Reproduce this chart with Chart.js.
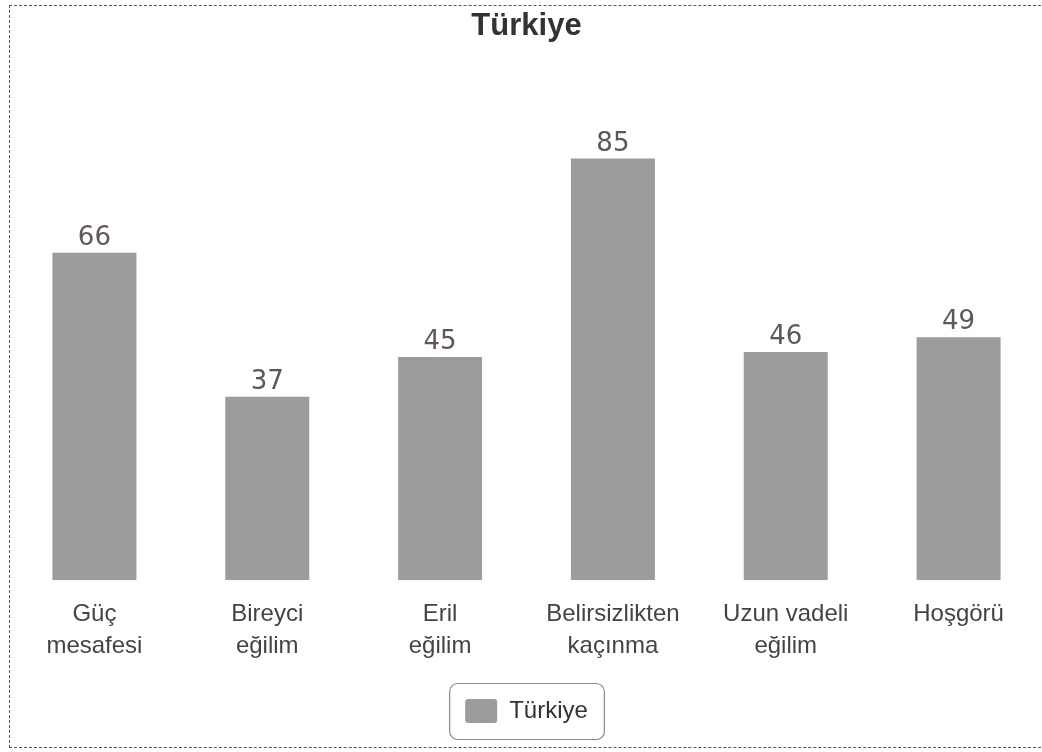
<!DOCTYPE html>
<html>
<head>
<meta charset="utf-8">
<script src="https://cdn.jsdelivr.net/npm/chart.js@4/dist/chart.umd.min.js"></script>
<style>
    html, body { margin: 0; padding: 0; background: #fff; overflow: hidden; }
    #frame {
        position: absolute; left: 9px; top: 5px; width: 1100px; height: 741px;
        border: 1px dashed #555;
    }
    #wrap { position: absolute; left: 8px; top: 0; width: 1037px; height: 752px; }
</style>
</head>
<body>
<div id="frame"></div>
<div id="wrap"><canvas id="chart"></canvas></div>
<script>
// Chart data
const categories = [
    ['Güç', 'mesafesi'],
    ['Bireyci', 'eğilim'],
    ['Eril', 'eğilim'],
    ['Belirsizlikten', 'kaçınma'],
    ['Uzun vadeli', 'eğilim'],
    ['Hoşgörü']
];
const values = [66, 37, 45, 85, 46, 49];
const seriesName = 'Türkiye';

// Value labels above bars
const valueLabels = {
    id: 'valueLabels',
    afterDatasetsDraw(chart) {
        const ctx = chart.ctx;
        const meta = chart.getDatasetMeta(0);
        ctx.save();
        ctx.font = '26px "DejaVu Sans"';
        ctx.fillStyle = '#5f5754';
        ctx.textAlign = 'center';
        ctx.textBaseline = 'alphabetic';
        meta.data.forEach((bar, i) => {
            ctx.fillText(values[i], bar.x, bar.y - 8);
        });
        ctx.restore();
    }
};

// Rounded frame around the legend
const legendFrame = {
    id: 'legendFrame',
    afterDraw(chart) {
        const hit = chart.legend && chart.legend.legendHitBoxes && chart.legend.legendHitBoxes[0];
        if (!hit) return;
        const ctx = chart.ctx;
        const cy = hit.top + hit.height / 2;
        const x = hit.left - 16, y = cy - 28, w = hit.width + 32, h = 56;
        ctx.save();
        ctx.strokeStyle = '#8a8a8a';
        ctx.lineWidth = 1.2;
        ctx.beginPath();
        ctx.roundRect(x + 0.5, y + 0.5, w, h, 8);
        ctx.stroke();
        ctx.restore();
    }
};

new Chart(document.getElementById('chart'), {
    type: 'bar',
    data: {
        labels: categories,
        datasets: [{
            label: seriesName,
            data: values,
            backgroundColor: '#9d9b9d',
            borderWidth: 0,
            categoryPercentage: 1,
            barPercentage: 0.486
        }]
    },
    options: {
        responsive: true,
        maintainAspectRatio: false,
        animation: false,
        layout: { padding: { top: 0, bottom: 19, left: 0, right: 0 } },
        plugins: {
            title: {
                display: true,
                text: 'Türkiye',
                color: '#333',
                font: { family: '"Liberation Sans", Arial', size: 31, weight: 'bold', lineHeight: 1.2 },
                padding: { top: 8, bottom: 39 }
            },
            legend: {
                display: true,
                position: 'bottom',
                labels: {
                    color: '#333',
                    font: { family: '"Liberation Sans", Arial', size: 24 },
                    boxWidth: 32,
                    boxHeight: 24,
                    useBorderRadius: true,
                    borderRadius: 3,
                    padding: 14
                }
            },
            tooltip: { enabled: false }
        },
        scales: {
            x: {
                grid: { display: false },
                border: { display: false },
                afterFit(scale) { scale.height += 12; },
                ticks: {
                    color: '#444',
                    padding: 10,
                    maxRotation: 0,
                    autoSkip: false,
                    font: { family: '"Liberation Sans", Arial', size: 24, lineHeight: 1.35 }
                }
            },
            y: {
                display: false,
                min: 0,
                max: 100
            }
        }
    },
    plugins: [valueLabels, legendFrame]
});
</script>
</body>
</html>
